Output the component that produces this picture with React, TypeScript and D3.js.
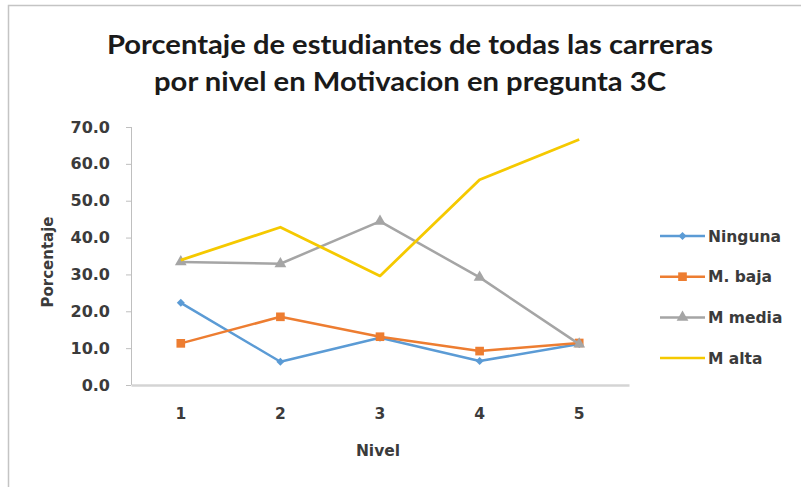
import { useEffect, useRef } from 'react';
import * as d3 from 'd3';

const niveles = ['1', '2', '3', '4', '5'];
const ninguna = [22.3, 6.3, 12.8, 6.5, 11.1];
const mBaja = [11.3, 18.5, 13.1, 9.2, 11.4];
const mMedia = [33.4, 32.9, 44.4, 29.2, 11.1];
const mAlta = [33.9, 42.8, 29.6, 55.7, 66.6];
const yTicks = [0, 10, 20, 30, 40, 50, 60, 70];
const seriesNames = ['Ninguna', 'M. baja', 'M media', 'M alta'];

const titleLines = [
  'Porcentaje de estudiantes de todas las carreras',
  'por nivel en Motivacion en pregunta 3C',
];

const App = () => {
  const svgRef = useRef<SVGSVGElement>(null);

  useEffect(() => {
    const width = 801;
    const height = 487;
    const margin = { top: 127, right: 172, bottom: 102, left: 131 };
    const titleFont = 'Lato, "Open Sans", sans-serif';
    const font = '"DejaVu Sans", sans-serif';
    const textColor = '#3b3b3b';

    const svg = d3.select(svgRef.current);
    svg.selectAll('*').remove();
    svg.attr('width', width).attr('height', height);

    svg.append('rect')
      .attr('width', width).attr('height', height)
      .attr('fill', 'white');

    // outer frame (top and left edges show)
    svg.append('path')
      .attr('d', `M8.5,${height} V5.5 H${width}`)
      .attr('fill', 'none')
      .attr('stroke', '#c4c4c4')
      .attr('stroke-width', 1.5);

    // title
    const titleWidths = [606, 512];
    svg.append('g')
      .selectAll('text')
      .data(titleLines)
      .enter().append('text')
      .attr('x', 410)
      .attr('y', (d, i) => 54 + i * 37)
      .attr('text-anchor', 'middle')
      .attr('font-family', titleFont)
      .attr('font-weight', 700)
      .attr('font-size', 27)
      .attr('fill', '#1a1a1a')
      .attr('textLength', (d, i) => titleWidths[i])
      .attr('lengthAdjust', 'spacingAndGlyphs')
      .text(d => d);

    const x = d3.scaleBand()
      .domain(niveles)
      .range([margin.left, width - margin.right]);

    const y = d3.scaleLinear()
      .domain([0, 70])
      .range([height - margin.bottom, margin.top]);

    // y axis
    const yAxis = svg.append('g')
      .attr('transform', `translate(${margin.left},0)`)
      .call(d3.axisLeft(y).tickValues(yTicks).tickSize(5).tickFormat(d3.format('.1f')));
    yAxis.select('.domain').attr('stroke', '#bfbfbf').attr('d', `M0.5,${y(70)}V${y(0)}`);
    yAxis.selectAll('.tick line').attr('stroke', '#bfbfbf');
    yAxis.selectAll('.tick text')
      .attr('x', -21)
      .attr('font-family', font)
      .attr('font-weight', 700)
      .attr('font-size', 16)
      .attr('fill', textColor);

    // x axis
    const xAxis = svg.append('g')
      .attr('transform', `translate(0,${y(0)})`)
      .call(d3.axisBottom(x).tickSize(0).tickPadding(23));
    xAxis.select('.domain').attr('stroke', '#d4d4d4').attr('stroke-width', 2.5);
    xAxis.selectAll('.tick text')
      .attr('font-family', font)
      .attr('font-weight', 700)
      .attr('font-size', 15.5)
      .attr('fill', textColor);

    // axis titles
    svg.append('text')
      .attr('x', 378).attr('y', 456)
      .attr('text-anchor', 'middle')
      .attr('font-family', font).attr('font-weight', 700).attr('font-size', 15.5)
      .attr('fill', textColor)
      .text('Nivel');

    svg.append('text')
      .attr('transform', `translate(53,262) rotate(-90)`)
      .attr('text-anchor', 'middle')
      .attr('font-family', font).attr('font-weight', 700).attr('font-size', 15)
      .attr('fill', textColor)
      .text('Porcentaje');

    const cx = (i: number) => (x(niveles[i]) as number) + x.bandwidth() / 2;
    const line = d3.line<number>().x((d, i) => cx(i)).y(d => y(d));

    // Excel-style diamond = square turned 45 degrees
    const series = [
      { name: seriesNames[0], values: ninguna, color: '#5B9BD5', marker: d3.symbolSquare, size: 32, rot: 45 },
      { name: seriesNames[1], values: mBaja, color: '#ED7D31', marker: d3.symbolSquare, size: 75, rot: 0 },
      { name: seriesNames[2], values: mMedia, color: '#A5A5A5', marker: d3.symbolTriangle, size: 60, rot: 0 },
      { name: seriesNames[3], values: mAlta, color: '#F5C900', marker: null, size: 0, rot: 0 },
    ];

    series.forEach(s => {
      svg.append('path')
        .datum(s.values)
        .attr('fill', 'none')
        .attr('stroke', s.color)
        .attr('stroke-width', s.marker ? 2.5 : 2.8)
        .attr('stroke-linejoin', 'round')
        .attr('d', line);
      if (s.marker) {
        svg.selectAll(null)
          .data(s.values)
          .enter().append('path')
          .attr('d', d3.symbol().type(s.marker).size(s.size))
          .attr('transform', (d, i) => `translate(${cx(i)},${y(d)}) rotate(${s.rot})`)
          .attr('fill', s.color);
      }
    });

    // legend
    const legend = svg.append('g').attr('transform', 'translate(660,236)');
    series.forEach((s, i) => {
      const g = legend.append('g').attr('transform', `translate(0,${i * 40.7})`);
      g.append('line')
        .attr('x1', 0).attr('x2', 45)
        .attr('stroke', s.color).attr('stroke-width', 2.5);
      if (s.marker) {
        g.append('path')
          .attr('d', d3.symbol().type(s.marker).size(s.size))
          .attr('transform', `translate(22.5,0) rotate(${s.rot})`)
          .attr('fill', s.color);
      }
      g.append('text')
        .attr('x', 48).attr('dy', '0.36em')
        .attr('font-family', font).attr('font-weight', 700).attr('font-size', 15.5)
        .attr('fill', textColor)
        .text(s.name);
    });
  }, []);

  return <svg ref={svgRef} style={{ position: 'absolute', left: 0, top: 0 }}></svg>;
};

export default App;
